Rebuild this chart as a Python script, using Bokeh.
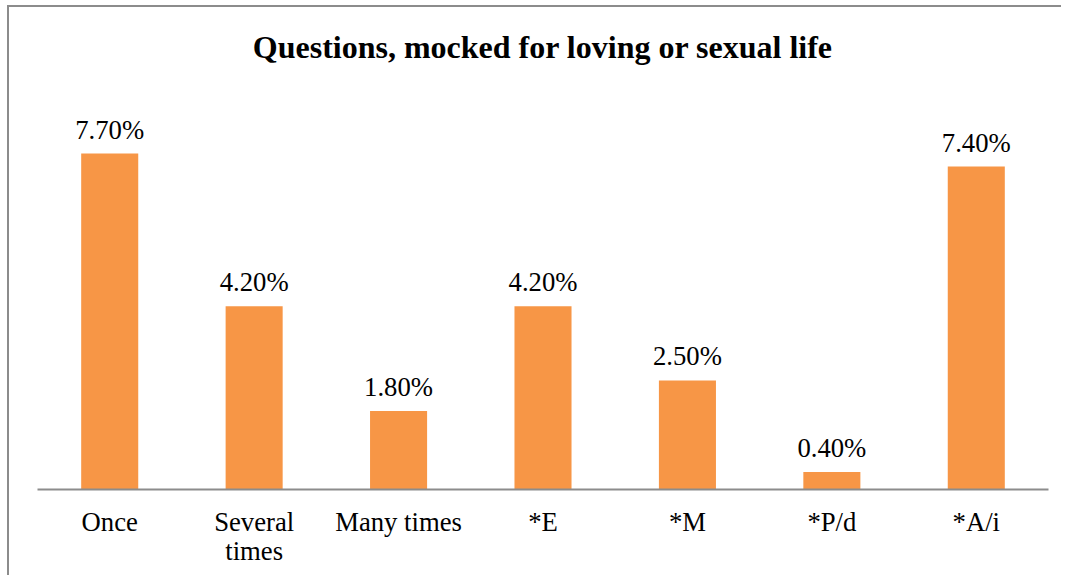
from bokeh.plotting import figure
from bokeh.models import ColumnDataSource, Range1d, Label
from bokeh.core.properties import value
from bokeh.embed import file_html
from bokeh.resources import INLINE

categories = ["Once", "Several\ntimes", "Many times", "*E", "*M", "*P/d", "*A/i"]
values = [7.70, 4.20, 1.80, 4.20, 2.50, 0.40, 7.40]
labels = ["7.70%", "4.20%", "1.80%", "4.20%", "2.50%", "0.40%", "7.40%"]
title_text = "Questions, mocked for loving or sexual life"

FONT = "Liberation Serif"

src = ColumnDataSource(dict(cat=categories, val=values, lab=labels))

p = figure(
    x_range=categories,
    y_range=Range1d(0, 10.748),
    width=1054, height=570,
    output_backend="svg",
    toolbar_location=None,
    y_axis_location=None,
    min_border_left=28, min_border_right=15,
    min_border_top=13, min_border_bottom=88,
    outline_line_color=None,
    styles={"border-top": "2px solid #8c8c8c", "border-left": "2px solid #8c8c8c",
            "margin-left": "7px", "margin-top": "5px"},
)

# title placed at the horizontal centre of the category range, above the tallest bar
title = Label(x=len(categories) / 2, y=10.13, text=title_text,
              text_align="center", text_baseline="alphabetic", text_font=FONT,
              text_font_style="bold", text_font_size="32px", text_color="black")
p.add_layout(title)

p.vbar(x="cat", top="val", width=0.395, source=src, fill_color="#F79646", line_color=None)

p.text(x="cat", y="val", text="lab", source=src, text_align="center", text_baseline="alphabetic",
       y_offset=-24, text_font=value(FONT), text_font_size="26.7px", text_color="black")

p.xgrid.grid_line_color = None
p.ygrid.grid_line_color = None

ax = p.xaxis[0]
ax.axis_line_color = "#8c8c8c"
ax.axis_line_width = 2
ax.major_tick_line_color = None
ax.minor_tick_line_color = None
ax.major_label_text_font = FONT
ax.major_label_text_font_size = "26.7px"
ax.major_label_text_color = "black"
ax.major_label_standoff = 11
ax.major_label_text_line_height = 0.98

open("out.html", "w").write(file_html(p, INLINE))
